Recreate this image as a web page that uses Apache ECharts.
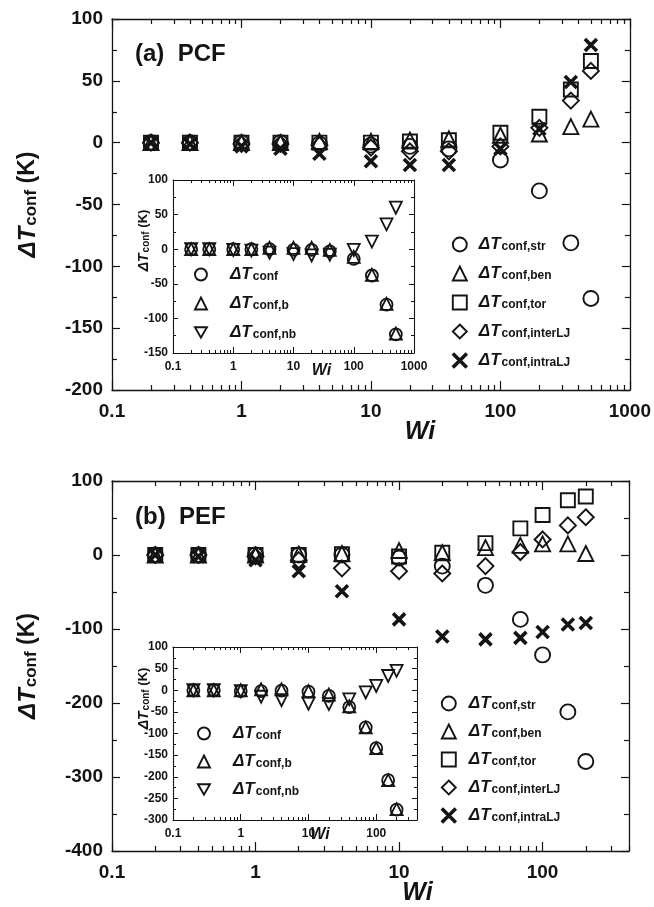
<!DOCTYPE html>
<html><head><meta charset="utf-8">
<script src="https://cdn.jsdelivr.net/npm/echarts@6/dist/echarts.min.js"></script>
<style>html,body{margin:0;padding:0;background:#fff}#c{width:654px;height:907px}</style>
</head><body><div id="c"></div>
<script>
// ---------------- data ----------------
// Panel (a) PCF, main plot
const wiA    = [0.2, 0.4, 1, 2, 4, 10, 20, 40, 100, 200, 350, 500];
const aStr   = [0, 0, 0, 0, -1, -2, -3, -5, -14, -39, -81, -126];
const aBen   = [0, 0, 0, 0, 1, 1, 2, 3, 6, 7, 13, 19];
const aTor   = [0, 0, 0, 0, 0, 0, 1, 2, 8, 21, 43, 66];
const aInter = [0, 0, -1, -1, -2, -4, -7, -7, -3, 12, 34, 58];
const aIntra = [0, -1, -3, -5, -9, -15, -18, -18, -5, 11, 49, 79];
// Panel (a) inset
const aTot = [0, 0, 0, 0, 0, -1, -1, -3, -14, -38, -80, -123];
const aB   = [0, 0, 0, 0, 2, 2, 2, -1, -11, -37, -79, -122];
const aNb  = [0, 0, -1, -2, -5, -7, -9, -8, -1, 11, 36, 60];
// Panel (b) PEF, main plot
const wiB    = [0.2, 0.4, 1, 2, 4, 10, 20, 40, 70, 100, 150, 200];
const bStr   = [0, 0, 0, 0, 0, -4, -15, -41, -87, -135, -212, -279];
const bBen   = [0, 0, 0, 1, 2, 6, 3, 10, 13, 15, 15, 2];
const bTor   = [0, 0, 0, 0, 1, -2, 3, 16, 36, 54, 74, 79];
const bInter = [0, 0, -2, -7, -18, -22, -25, -15, 4, 21, 40, 51];
const bIntra = [0, -2, -7, -22, -49, -87, -110, -114, -112, -104, -94, -92];
// Panel (b) inset
const bTot = [0, 0, -2, -2, -1, -3, -13, -39, -86, -134, -208, -276];
const bB   = [0, 0, 0, 2, 2, -2, -10, -37, -86, -134, -208, -275];
const bNb  = [0, 0, -2, -15, -23, -31, -32, -21, -5, 10, 33, 45];
// axis ranges / tick labels
const xRangeA = [0.1, 1000];
const xRangeB = [0.1, 400];
const yMainA = [-200, 100, 50];
const yInsetA = [-150, 100, 50];
const yMainB = [-400, 100, 100];
const yInsetB = [-300, 100, 50];
const mainNames = ['ΔT conf,str', 'ΔT conf,ben', 'ΔT conf,tor', 'ΔT conf,interLJ', 'ΔT conf,intraLJ'];
const insetNames = ['ΔT conf', 'ΔT conf,b', 'ΔT conf,nb'];
const panelLabels = ['(a)  PCF', '(b)  PEF'];

// ---------------- styling helpers ----------------
const FONT = '"Liberation Sans", Arial, Helvetica, sans-serif';
const INK = '#141414';
const SYM = {
  circle: 'circle',
  tri: 'triangle',
  square: 'rect',
  diamond: 'diamond',
  cross: 'path://M0,0L10,10M10,0L0,10',
  down: 'path://M0,0L10,0L5,8.66Z'
};
const mainSyms = [SYM.circle, SYM.tri, SYM.square, SYM.diamond, SYM.cross];
const insetSyms = [SYM.circle, SYM.tri, SYM.down];

function logTicks(lo, hi) {
  const major = [], minor = [];
  for (let e = Math.floor(Math.log10(lo)) - 1; e <= Math.ceil(Math.log10(hi)); e++) {
    for (let k = 1; k <= 9; k++) {
      const v = k * Math.pow(10, e);
      if (v < lo * 0.9999 || v > hi * 1.0001) continue;
      (k === 1 ? major : minor).push(Math.log10(v));
    }
  }
  return { major, minor };
}

function xAxesFor(gi, range, cfg) {
  const lmin = Math.log10(range[0]), lmax = Math.log10(range[1]);
  const t = logTicks(range[0], range[1]);
  const line = { show: true, onZero: false, lineStyle: { color: INK, width: cfg.lw } };
  const tickAxis = (pos, vals, len, showLine) => ({
    type: 'value', gridIndex: gi, min: lmin, max: lmax, position: pos, silent: true,
    axisLine: showLine ? line : { show: false, onZero: false },
    axisLabel: { show: false }, splitLine: { show: false },
    axisTick: { show: true, inside: true, length: len, customValues: vals, lineStyle: { color: INK, width: cfg.tw } }
  });
  const main = {
    type: 'log', logBase: 10, gridIndex: gi, min: range[0], max: range[1], position: 'bottom',
    axisLine: line, axisTick: { show: false }, splitLine: { show: false },
    axisLabel: {
      show: true, fontFamily: FONT, fontWeight: 'bold', fontSize: cfg.labelSize, color: INK, margin: cfg.labelMargin,
      showMaxLabel: true,
      formatter: v => { const l = Math.log10(v); return Math.abs(l - Math.round(l)) < 1e-6 ? String(+Number(v).toPrecision(6)) : ''; }
    },
    name: 'Wi', nameLocation: 'middle', nameGap: cfg.nameGap, nameMoveOverlap: false,
    nameTextStyle: { fontFamily: FONT, fontWeight: 'bold', fontStyle: 'italic', fontSize: cfg.nameSize, color: INK, padding: [0, 0, 0, cfg.nameShift] }
  };
  return [main, tickAxis('bottom', t.major, cfg.major, false), tickAxis('bottom', t.minor, cfg.minor, false),
          tickAxis('top', t.major, cfg.major, true), tickAxis('top', t.minor, cfg.minor, false)];
}

function yAxesFor(gi, yr, cfg) {
  const common = {
    type: 'value', gridIndex: gi, min: yr[0], max: yr[1], interval: yr[2],
    splitLine: { show: false }, minorSplitLine: { show: false },
    axisLine: { show: true, onZero: false, lineStyle: { color: INK, width: cfg.lw } },
    axisTick: { show: true, inside: true, length: cfg.ymajor, lineStyle: { color: INK, width: cfg.tw } },
    minorTick: { show: true, splitNumber: 2, length: cfg.yminor, lineStyle: { color: INK, width: cfg.tw } }
  };
  const left = Object.assign({}, common, {
    position: 'left',
    axisLabel: { fontFamily: FONT, fontWeight: 'bold', fontSize: cfg.labelSize, color: INK, margin: cfg.yLabelMargin },
    name: '{d|ΔT}{s|conf}{k| (K)}', nameLocation: 'middle', nameGap: cfg.yNameGap, nameMoveOverlap: false,
    nameTextStyle: {
      color: INK, padding: [0, 0, 0, cfg.yNameShift],
      rich: {
        d: { fontFamily: FONT, fontWeight: 'bold', fontStyle: 'italic', fontSize: cfg.yd, lineHeight: cfg.yd, verticalAlign: 'top', color: INK },
        s: { fontFamily: FONT, fontWeight: 'bold', fontSize: cfg.ys, lineHeight: cfg.ys, verticalAlign: 'bottom', padding: [cfg.ysOff, 0, 0, 1], color: INK },
        k: { fontFamily: FONT, fontWeight: 'bold', fontSize: cfg.yk, lineHeight: cfg.yd, verticalAlign: 'top', color: INK }
      }
    }
  });
  const right = Object.assign({}, common, { position: 'right', axisLabel: { show: false } });
  return [left, right];
}

const mainCfg = { lw: 1.3, tw: 1.2, major: 9, minor: 5, ymajor: 8, yminor: 5, labelSize: 19, labelMargin: 12, yLabelMargin: 9,
  nameGap: 30, nameSize: 25, yNameGap: 72, yNameShift: 0, yd: 24, ys: 17, yk: 23, ysOff: 10 };
const insetCfgA = { lw: 1.1, tw: 1, major: 6, minor: 3, ymajor: 5, yminor: 3, labelSize: 12, labelMargin: 8, yLabelMargin: 5,
  nameGap: 10, nameSize: 16, yNameGap: 22, yNameShift: 52, yd: 14, ys: 10, yk: 13, ysOff: 6 };
const insetCfgB = Object.assign({}, insetCfgA, { yNameShift: 70, nameGap: 7 });

const cfgA = Object.assign({}, mainCfg, { nameShift: 98 });
const cfgB = Object.assign({}, mainCfg, { nameShift: 94 });
insetCfgA.nameShift = 56;
insetCfgB.nameShift = 50;

const grids = [
  { left: 112, top: 19, width: 518, height: 371 },
  { left: 173, top: 180, width: 241, height: 173, show: true, backgroundColor: '#fff', borderWidth: 0 },
  { left: 112, top: 481, width: 517, height: 372 },
  { left: 173, top: 647, width: 244, height: 173, show: true, backgroundColor: '#fff', borderWidth: 0 }
];

const xAxes = [].concat(
  xAxesFor(0, xRangeA, cfgA), xAxesFor(1, xRangeA, insetCfgA),
  xAxesFor(2, xRangeB, cfgB), xAxesFor(3, xRangeB, insetCfgB));
const yAxes = [].concat(
  yAxesFor(0, yMainA, mainCfg), yAxesFor(1, yInsetA, insetCfgA),
  yAxesFor(2, yMainB, mainCfg), yAxesFor(3, yInsetB, insetCfgB));

function mk(name, gi, xs, ys, sym, size, bw) {
  return {
    type: 'scatter', name, xAxisIndex: gi * 5, yAxisIndex: gi * 2,
    data: xs.map((x, i) => [x, ys[i]]),
    symbol: sym, symbolSize: size, silent: true,
    itemStyle: { color: 'rgba(0,0,0,0)', borderColor: INK, borderWidth: bw, opacity: 1 },
    z: 5 + gi
  };
}
const MS = 15, IS = 12;
const series = [
  mk(mainNames[0], 0, wiA, aStr, SYM.circle, MS, 1.9),
  mk(mainNames[1], 0, wiA, aBen, SYM.tri, MS, 1.9),
  mk(mainNames[2], 0, wiA, aTor, SYM.square, 14, 1.9),
  mk(mainNames[3], 0, wiA, aInter, SYM.diamond, 16, 1.9),
  mk(mainNames[4], 0, wiA, aIntra, SYM.cross, 12, 3.6),
  mk(insetNames[0], 1, wiA, aTot, SYM.circle, IS, 1.8),
  mk(insetNames[1], 1, wiA, aB, SYM.tri, IS, 1.8),
  mk(insetNames[2], 1, wiA, aNb, SYM.down, IS, 1.8),
  mk(mainNames[0], 2, wiB, bStr, SYM.circle, MS, 1.9),
  mk(mainNames[1], 2, wiB, bBen, SYM.tri, MS, 1.9),
  mk(mainNames[2], 2, wiB, bTor, SYM.square, 14, 1.9),
  mk(mainNames[3], 2, wiB, bInter, SYM.diamond, 16, 1.9),
  mk(mainNames[4], 2, wiB, bIntra, SYM.cross, 12, 3.6),
  mk(insetNames[0], 3, wiB, bTot, SYM.circle, IS, 1.8),
  mk(insetNames[1], 3, wiB, bB, SYM.tri, IS, 1.8),
  mk(insetNames[2], 3, wiB, bNb, SYM.down, IS, 1.8)
];

function legendFor(names, syms, left, top, iconSize, gap, pad) {
  return {
    data: names.map((n, i) => ({
      name: n, icon: syms[i],
      itemStyle: { color: 'rgba(0,0,0,0)', borderColor: INK, borderWidth: syms[i] === SYM.cross ? 3.6 : 1.9, opacity: 1 }
    })),
    orient: 'vertical', left, top, itemWidth: iconSize, itemHeight: iconSize, itemGap: gap,
    selectedMode: false, padding: 0,
    formatter: n => '{d|ΔT}{s|' + n.split(' ')[1] + '}',
    textStyle: {
      color: INK,
      rich: {
        d: { fontFamily: FONT, fontWeight: 'bold', fontStyle: 'italic', fontSize: 17, lineHeight: 17, verticalAlign: 'top', padding: [0, 0, 0, pad], color: INK },
        s: { fontFamily: FONT, fontWeight: 'bold', fontSize: 12, lineHeight: 12, verticalAlign: 'bottom', padding: [9, 0, 0, 1], color: INK }
      }
    }
  };
}

const option = {
  animation: false,
  backgroundColor: '#fff',
  grid: grids,
  xAxis: xAxes,
  yAxis: yAxes,
  legend: [
    legendFor(mainNames, mainSyms, 451, 232, 14, 8, 7),
    legendFor(insetNames, insetSyms, 194, 262, 12, 8, 18),
    legendFor(mainNames, mainSyms, 440, 691, 14, 7, 8),
    legendFor(insetNames, insetSyms, 197, 721, 12, 7, 18)
  ],
  graphic: [
    { type: 'text', left: 135, top: 42, style: { text: panelLabels[0], font: 'bold 24px ' + FONT, fill: INK } },
    { type: 'text', left: 135, top: 505, style: { text: panelLabels[1], font: 'bold 24px ' + FONT, fill: INK } }
  ],
  series
};
const chart = echarts.init(document.getElementById('c'), null, { renderer: 'canvas' });
chart.setOption(option);
</script></body></html>
